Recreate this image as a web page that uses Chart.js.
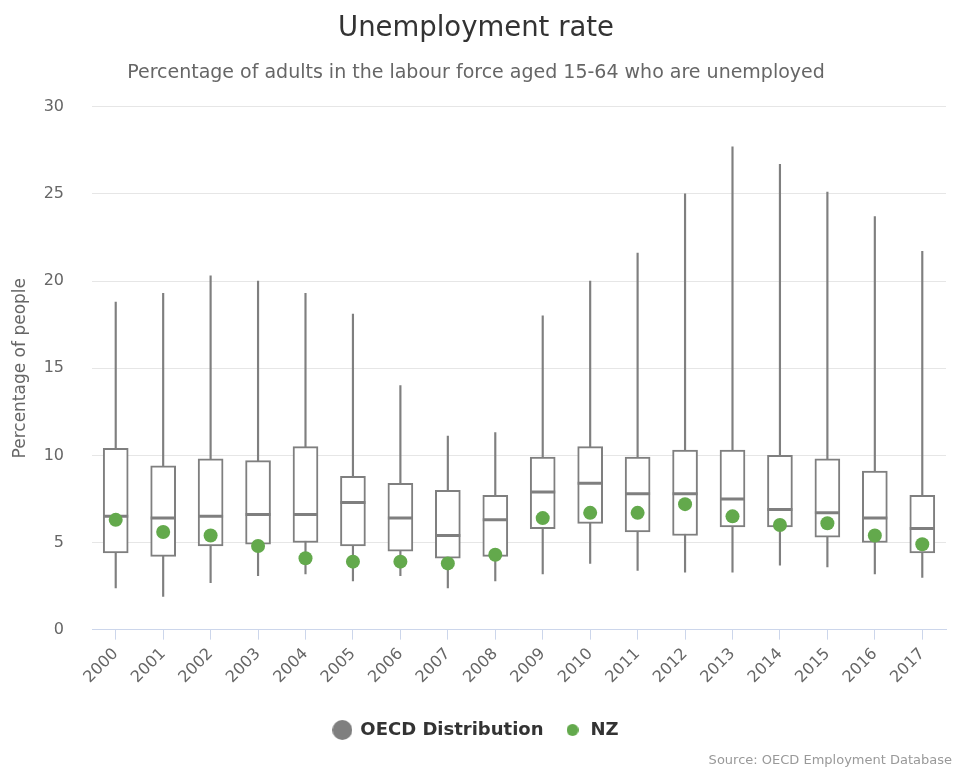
<!DOCTYPE html>
<html>
<head>
<meta charset="utf-8">
<script src="https://cdn.jsdelivr.net/npm/chart.js@4"></script>
<style>
  body { margin: 0; background: #fff; }
  #wrap { width: 954px; height: 769px; position: relative; }
</style>
</head>
<body>
<div id="wrap"><canvas id="unemployment"></canvas></div>
<script>
"use strict";
// OECD distribution per year (min, q1, median, q3, max) and the NZ rate
var years = ["2000","2001","2002","2003","2004","2005","2006","2007","2008","2009","2010","2011","2012","2013","2014","2015","2016","2017"];
var oecdMin    = [2.4, 1.9, 2.7, 3.1, 3.2, 2.8, 3.1, 2.4, 2.8, 3.2, 3.8, 3.4, 3.3, 3.3, 3.7, 3.6, 3.2, 3.0];
var oecdQ1     = [4.4, 4.2, 4.8, 4.9, 5.0, 4.8, 4.5, 4.1, 4.2, 5.8, 6.1, 5.6, 5.4, 5.9, 5.9, 5.3, 5.0, 4.4];
var oecdMedian = [6.5, 6.4, 6.5, 6.6, 6.6, 7.3, 6.4, 5.4, 6.3, 7.9, 8.4, 7.8, 7.8, 7.5, 6.9, 6.7, 6.4, 5.8];
var oecdQ3     = [10.4, 9.4, 9.8, 9.7, 10.5, 8.8, 8.4, 8.0, 7.7, 9.9, 10.5, 9.9, 10.3, 10.3, 10.0, 9.8, 9.1, 7.7];
var oecdMax    = [18.8, 19.3, 20.3, 20.0, 19.3, 18.1, 14.0, 11.1, 11.3, 18.0, 20.0, 21.6, 25.0, 27.7, 26.7, 25.1, 23.7, 21.7];
var nz         = [6.3, 5.6, 5.4, 4.8, 4.1, 3.9, 3.9, 3.8, 4.3, 6.4, 6.7, 6.7, 7.2, 6.5, 6.0, 6.1, 5.4, 4.9];

var boxGrey = "#7f7f7f";
var nzGreen = "#63a94c";

function dot(r, color) {
    var c = document.createElement("canvas");
    c.width = r * 2; c.height = r * 2;
    var g = c.getContext("2d");
    g.fillStyle = color;
    g.beginPath(); g.arc(r, r, r, 0, Math.PI * 2); g.fill();
    return c;
}
var greyDot = dot(10, boxGrey);
var greenDot = dot(6, nzGreen);

Chart.defaults.font.family = '"DejaVu Sans", sans-serif';
Chart.defaults.color = "#666";

var sourceNote = {
    id: "sourceNote",
    afterDraw: function (chart) {
        var ctx = chart.ctx;
        ctx.save();
        ctx.font = '13px "DejaVu Sans", sans-serif';
        ctx.fillStyle = "#999";
        ctx.textAlign = "right";
        ctx.textBaseline = "middle";
        ctx.fillText("Source: OECD Employment Database", chart.width - 2, 761);
        ctx.restore();
    }
};

var ctx = document.getElementById("unemployment").getContext("2d");
var chart = new Chart(ctx, {
    data: {
        labels: years,
        datasets: [{
            type: "line",
            label: "NZ",
            data: nz,
            showLine: false,
            pointRadius: 7,
            pointHoverRadius: 7,
            pointBackgroundColor: nzGreen,
            pointBorderWidth: 0,
            order: 0
        }, {
            type: "line",
            label: "Median",
            data: oecdMedian,
            showLine: false,
            pointStyle: "line",
            pointRadius: 12.5,
            pointHoverRadius: 12.5,
            pointBorderColor: boxGrey,
            pointBorderWidth: 3,
            order: 1
        }, {
            type: "bar",
            label: "Box",
            data: years.map(function (y, i) { return [oecdQ1[i], oecdQ3[i]]; }),
            backgroundColor: "#fff",
            borderColor: boxGrey,
            borderWidth: 2,
            borderSkipped: false,
            barThickness: 25,
            grouped: false,
            order: 2
        }, {
            type: "bar",
            label: "Whisker",
            data: years.map(function (y, i) { return [oecdMin[i], oecdMax[i]]; }),
            backgroundColor: boxGrey,
            barThickness: 1.5,
            grouped: false,
            order: 3
        }]
    },
    options: {
        responsive: true,
        maintainAspectRatio: false,
        animation: false,
        layout: { autoPadding: false, padding: { left: 6, right: 8, bottom: 20 } },
        scales: {
            x: {
                offset: true,
                grid: { offset: false, drawOnChartArea: false, drawTicks: true, tickLength: 10, color: "#ccd6eb" },
                border: { color: "#ccd6eb" },
                ticks: { minRotation: 45, maxRotation: 45, font: { size: 16 }, color: "#666", padding: 5 },
                afterFit: function (axis) { axis.height += 9; }
            },
            y: {
                min: 0,
                max: 30,
                ticks: { stepSize: 5, font: { size: 16 }, color: "#666", padding: 28 },
                grid: { color: "#e6e6e6", drawTicks: false },
                border: { display: false },
                title: { display: true, text: "Percentage of people", font: { size: 17 }, color: "#666", padding: { top: 4, bottom: 4 } },
                afterFit: function (axis) { axis.width = 86; }
            }
        },
        plugins: {
            title: {
                display: true,
                text: "Unemployment rate",
                color: "#333",
                font: { size: 27.5, weight: "normal" },
                padding: { top: 12, bottom: 12 }
            },
            subtitle: {
                display: true,
                text: "Percentage of adults in the labour force aged 15-64 who are unemployed",
                color: "#666",
                font: { size: 19 },
                padding: { top: 5, bottom: 22 }
            },
            legend: {
                position: "bottom",
                labels: {
                    usePointStyle: true,
                    boxWidth: 20,
                    padding: 20,
                    color: "#333",
                    font: { size: 18, weight: "bold" },
                    generateLabels: function () {
                        return [
                            { text: "OECD Distribution", pointStyle: greyDot, fillStyle: boxGrey, strokeStyle: boxGrey, lineWidth: 0, fontColor: "#333" },
                            { text: "NZ", pointStyle: greenDot, fillStyle: nzGreen, strokeStyle: nzGreen, lineWidth: 0, fontColor: "#333" }
                        ];
                    }
                }
            },
            tooltip: { enabled: false }
        }
    },
    plugins: [sourceNote]
});
</script>
</body>
</html>
